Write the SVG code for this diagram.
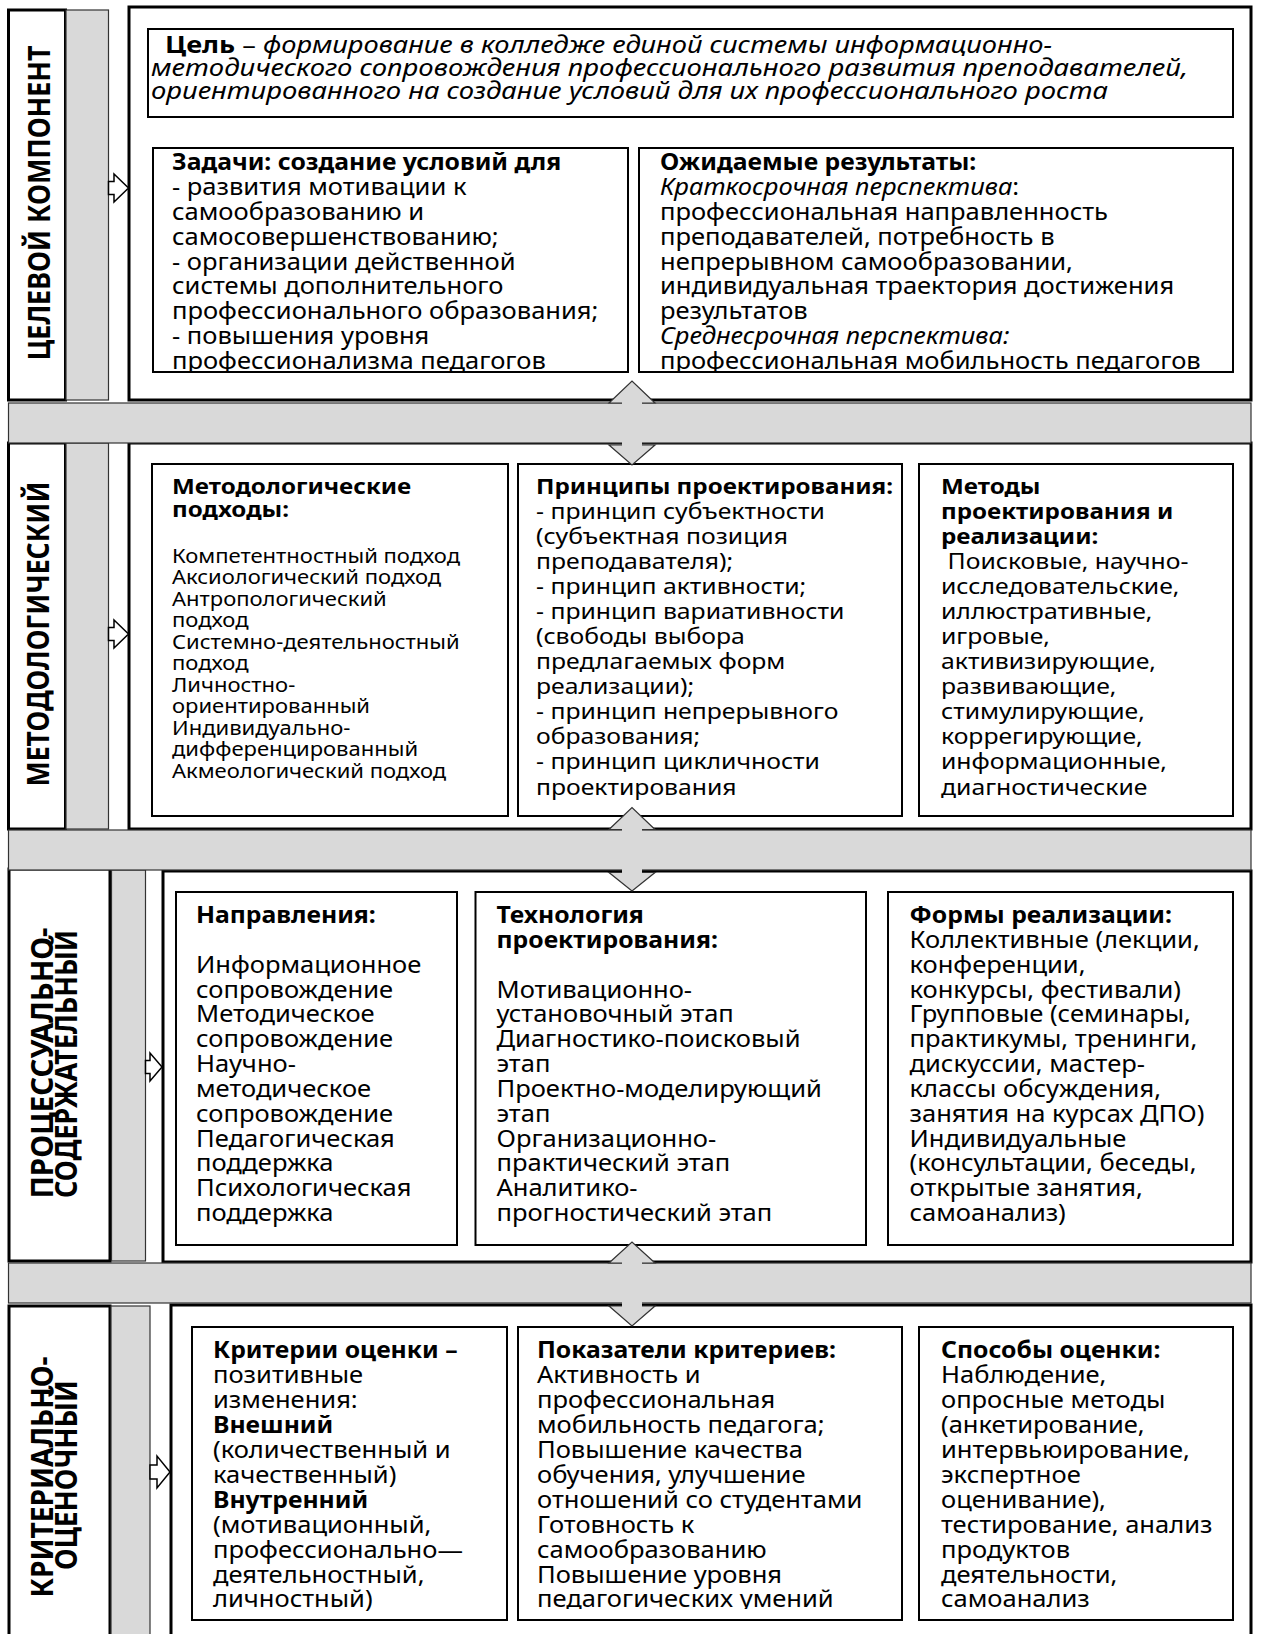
<svg xmlns="http://www.w3.org/2000/svg" width="1261" height="1634" viewBox="0 0 1261 1634">
<style>
  .t { font-family: 'Noto Sans', 'Open Sans', 'DejaVu Sans', sans-serif; font-size: 23.2px; fill: #000; }
  .m { font-size: 22.5px; }
  .sm { font-size: 20px; }
  .b { font-weight: bold; font-size: 22.5px; }
  .m .b { font-size: 22px; }
  .i { font-style: italic; }
  .goal { font-family: 'Noto Sans', 'Open Sans', 'DejaVu Sans', sans-serif; font-size: 23.6px; fill: #000; }
  .lbl { font-family: 'Noto Sans', 'Open Sans', 'DejaVu Sans', sans-serif; font-size: 30px; font-weight: bold; fill: #000; }
  .frame { fill: #fff; stroke: #000; stroke-width: 3; }
  .box { fill: #fff; stroke: #000; stroke-width: 2; }
  .bar { fill: #d9d9d9; stroke: #333; stroke-width: 1.2; }
  .fill { fill: #d9d9d9; stroke: none; }
  .edge { fill: none; stroke: #333; stroke-width: 1.2; }
  .side { fill: #fff; stroke: #000; stroke-width: 1.5; }
</style>
<defs>
  <clipPath id="clipTasks"><rect x="150" y="145" width="480" height="226"/></clipPath>
  <clipPath id="clipResults"><rect x="636" y="145" width="600" height="226"/></clipPath>
  <clipPath id="clipIndicators"><rect x="515" y="1324" width="390" height="285"/></clipPath>
</defs>
<rect width="1261" height="1634" fill="#fff"/>

<!-- ===== Section 1: target component ===== -->
<g id="target-label">
  <rect class="frame" x="8.5" y="10" width="57" height="390"/>
  <text class="lbl" transform="translate(39.5 203) rotate(-90)" y="10.7" text-anchor="middle" textLength="315" lengthAdjust="spacingAndGlyphs">ЦЕЛЕВОЙ КОМПОНЕНТ</text>
</g>
<g id="target-flow">
  <rect class="bar" x="66" y="10" width="42.5" height="390"/>
</g>
<g id="target-section">
  <rect class="frame" x="129" y="7" width="1122" height="393"/>
</g>
<g id="goal">
  <rect class="box" x="148" y="29" width="1085" height="88"/>
  <text class="goal" x="165" y="53" textLength="887" lengthAdjust="spacingAndGlyphs"><tspan font-weight="bold">Цель</tspan> – <tspan class="i">формирование в колледже единой системы информационно-</tspan></text>
  <text class="goal i" x="151" y="76" textLength="1037" lengthAdjust="spacingAndGlyphs">методического сопровождения профессионального развития преподавателей,</text>
  <text class="goal i" x="151" y="99" textLength="957" lengthAdjust="spacingAndGlyphs">ориентированного на создание условий для их профессионального роста</text>
</g>
<g id="tasks">
  <rect class="box" x="153" y="148" width="475" height="224"/>
  <g clip-path="url(#clipTasks)">
    <text class="t" transform="translate(172 0) scale(1.1 1)">
      <tspan class="b" x="0" y="170">Задачи: создание условий для</tspan>
      <tspan x="0" y="194.9">- развития мотивации к</tspan>
      <tspan x="0" y="219.8">самообразованию и</tspan>
      <tspan x="0" y="244.7">самосовершенствованию;</tspan>
      <tspan x="0" y="269.6">- организации действенной</tspan>
      <tspan x="0" y="294.5">системы дополнительного</tspan>
      <tspan x="0" y="319.4">профессионального образования;</tspan>
      <tspan x="0" y="344.3">- повышения уровня</tspan>
      <tspan x="0" y="369.5">профессионализма педагогов</tspan>
    </text>
  </g>
</g>
<g id="results">
  <rect class="box" x="639" y="148" width="594" height="224"/>
  <g clip-path="url(#clipResults)">
    <text class="t" transform="translate(660 0) scale(1.1 1)">
      <tspan class="b" x="0" y="170">Ожидаемые результаты:</tspan>
      <tspan x="0" y="194.9"><tspan class="i">Краткосрочная перспектива</tspan>:</tspan>
      <tspan x="0" y="219.8">профессиональная направленность</tspan>
      <tspan x="0" y="244.7">преподавателей, потребность в</tspan>
      <tspan x="0" y="269.6">непрерывном самообразовании,</tspan>
      <tspan x="0" y="294.5">индивидуальная траектория достижения</tspan>
      <tspan x="0" y="319.4">результатов</tspan>
      <tspan class="i" x="0" y="344.3">Среднесрочная перспектива:</tspan>
      <tspan x="0" y="369.5">профессиональная мобильность педагогов</tspan>
    </text>
  </g>
</g>

<!-- ===== Section 2: methodological component ===== -->
<g id="method-label">
  <rect class="frame" x="8.5" y="443" width="57" height="386"/>
  <text class="lbl" transform="translate(38.5 634) rotate(-90)" y="10.7" text-anchor="middle" textLength="305" lengthAdjust="spacingAndGlyphs">МЕТОДОЛОГИЧЕСКИЙ</text>
</g>
<g id="method-flow">
  <rect class="bar" x="66" y="443" width="42.5" height="386"/>
</g>
<g id="method-section">
  <rect class="frame" x="129" y="443" width="1122" height="386"/>
</g>
<g id="approaches">
  <rect class="box" x="152" y="464" width="356" height="352"/>
  <text class="t m" transform="translate(172 0) scale(1.1 1)">
    <tspan class="b" x="0" y="494">Методологические</tspan>
    <tspan class="b" x="0" y="517">подходы:</tspan>
    <tspan class="sm" x="0" y="563">Компетентностный подход</tspan>
    <tspan class="sm" x="0" y="584.5">Аксиологический подход</tspan>
    <tspan class="sm" x="0" y="606">Антропологический</tspan>
    <tspan class="sm" x="0" y="627.5">подход</tspan>
    <tspan class="sm" x="0" y="649">Системно-деятельностный</tspan>
    <tspan class="sm" x="0" y="670.5">подход</tspan>
    <tspan class="sm" x="0" y="692">Личностно-</tspan>
    <tspan class="sm" x="0" y="713.5">ориентированный</tspan>
    <tspan class="sm" x="0" y="735">Индивидуально-</tspan>
    <tspan class="sm" x="0" y="756.5">дифференцированный</tspan>
    <tspan class="sm" x="0" y="778">Акмеологический подход</tspan>
  </text>
</g>
<g id="principles">
  <rect class="box" x="518" y="464" width="384" height="352"/>
  <text class="t m" transform="translate(536 0) scale(1.1 1)">
    <tspan class="b" x="0" y="494">Принципы проектирования:</tspan>
    <tspan x="0" y="519">- принцип субъектности</tspan>
    <tspan x="0" y="544.1">(субъектная позиция</tspan>
    <tspan x="0" y="569.1">преподавателя);</tspan>
    <tspan x="0" y="594.2">- принцип активности;</tspan>
    <tspan x="0" y="619.2">- принцип вариативности</tspan>
    <tspan x="0" y="644.3">(свободы выбора</tspan>
    <tspan x="0" y="669.3">предлагаемых форм</tspan>
    <tspan x="0" y="694.4">реализации);</tspan>
    <tspan x="0" y="719.4">- принцип непрерывного</tspan>
    <tspan x="0" y="744.5">образования;</tspan>
    <tspan x="0" y="769.5">- принцип цикличности</tspan>
    <tspan x="0" y="794.6">проектирования</tspan>
  </text>
</g>
<g id="methods">
  <rect class="box" x="919" y="464" width="314" height="352"/>
  <text class="t m" transform="translate(941 0) scale(1.1 1)">
    <tspan class="b" x="0" y="494">Методы</tspan>
    <tspan class="b" x="0" y="519">проектирования и</tspan>
    <tspan class="b" x="0" y="544.1">реализации:</tspan>
    <tspan x="6" y="569.1">Поисковые, научно-</tspan>
    <tspan x="0" y="594.2">исследовательские,</tspan>
    <tspan x="0" y="619.2">иллюстративные,</tspan>
    <tspan x="0" y="644.3">игровые,</tspan>
    <tspan x="0" y="669.3">активизирующие,</tspan>
    <tspan x="0" y="694.4">развивающие,</tspan>
    <tspan x="0" y="719.4">стимулирующие,</tspan>
    <tspan x="0" y="744.5">коррегирующие,</tspan>
    <tspan x="0" y="769.5">информационные,</tspan>
    <tspan x="0" y="794.6">диагностические</tspan>
  </text>
</g>

<!-- ===== Section 3: process and content component ===== -->
<g id="process-label">
  <rect class="frame" x="9" y="869" width="101" height="392"/>
  <text class="lbl" transform="translate(42 1063) rotate(-90)" y="10.7" text-anchor="middle" textLength="271" lengthAdjust="spacingAndGlyphs">ПРОЦЕССУАЛЬНО-</text>
  <text class="lbl" transform="translate(66 1064) rotate(-90)" y="10.7" text-anchor="middle" textLength="268" lengthAdjust="spacingAndGlyphs">СОДЕРЖАТЕЛЬНЫЙ</text>
</g>
<g id="process-flow">
  <rect class="bar" x="111.5" y="870" width="34" height="391"/>
</g>
<g id="process-section">
  <rect class="frame" x="163" y="871" width="1088" height="391"/>
</g>
<g id="directions">
  <rect class="box" x="176" y="892" width="281" height="353"/>
  <text class="t" transform="translate(196 0) scale(1.1 1)">
    <tspan class="b" x="0" y="923">Направления:</tspan>
    <tspan x="0" y="972.7">Информационное</tspan>
    <tspan x="0" y="997.55">сопровождение</tspan>
    <tspan x="0" y="1022.4">Методическое</tspan>
    <tspan x="0" y="1047.25">сопровождение</tspan>
    <tspan x="0" y="1072.1">Научно-</tspan>
    <tspan x="0" y="1096.95">методическое</tspan>
    <tspan x="0" y="1121.8">сопровождение</tspan>
    <tspan x="0" y="1146.65">Педагогическая</tspan>
    <tspan x="0" y="1171.5">поддержка</tspan>
    <tspan x="0" y="1196.35">Психологическая</tspan>
    <tspan x="0" y="1221.2">поддержка</tspan>
  </text>
</g>
<g id="technology">
  <rect class="box" x="475.5" y="892" width="390.5" height="353"/>
  <text class="t" transform="translate(496.5 0) scale(1.1 1)">
    <tspan class="b" x="0" y="923">Технология</tspan>
    <tspan class="b" x="0" y="947.85">проектирования:</tspan>
    <tspan x="0" y="997.55">Мотивационно-</tspan>
    <tspan x="0" y="1022.4">установочный этап</tspan>
    <tspan x="0" y="1047.25">Диагностико-поисковый</tspan>
    <tspan x="0" y="1072.1">этап</tspan>
    <tspan x="0" y="1096.95">Проектно-моделирующий</tspan>
    <tspan x="0" y="1121.8">этап</tspan>
    <tspan x="0" y="1146.65">Организационно-</tspan>
    <tspan x="0" y="1171.5">практический этап</tspan>
    <tspan x="0" y="1196.35">Аналитико-</tspan>
    <tspan x="0" y="1221.2">прогностический этап</tspan>
  </text>
</g>
<g id="forms">
  <rect class="box" x="888" y="892" width="345" height="353"/>
  <text class="t" transform="translate(909.5 0) scale(1.1 1)">
    <tspan class="b" x="0" y="923">Формы реализации:</tspan>
    <tspan x="0" y="947.85">Коллективные (лекции,</tspan>
    <tspan x="0" y="972.7">конференции,</tspan>
    <tspan x="0" y="997.55">конкурсы, фестивали)</tspan>
    <tspan x="0" y="1022.4">Групповые (семинары,</tspan>
    <tspan x="0" y="1047.25">практикумы, тренинги,</tspan>
    <tspan x="0" y="1072.1">дискуссии, мастер-</tspan>
    <tspan x="0" y="1096.95">классы обсуждения,</tspan>
    <tspan x="0" y="1121.8">занятия на курсах ДПО)</tspan>
    <tspan x="0" y="1146.65">Индивидуальные</tspan>
    <tspan x="0" y="1171.5">(консультации, беседы,</tspan>
    <tspan x="0" y="1196.35">открытые занятия,</tspan>
    <tspan x="0" y="1221.2">самоанализ)</tspan>
  </text>
</g>

<!-- ===== Section 4: criteria and evaluation component ===== -->
<g id="criteria-label">
  <rect class="frame" x="9" y="1306" width="101" height="340"/>
  <text class="lbl" transform="translate(42 1477) rotate(-90)" y="10.7" text-anchor="middle" textLength="241" lengthAdjust="spacingAndGlyphs">КРИТЕРИАЛЬНО-</text>
  <text class="lbl" transform="translate(66 1475) rotate(-90)" y="10.7" text-anchor="middle" textLength="190" lengthAdjust="spacingAndGlyphs">ОЦЕНОЧНЫЙ</text>
</g>
<g id="criteria-flow">
  <rect class="bar" x="111" y="1306" width="39" height="340"/>
</g>
<g id="criteria-section">
  <rect class="frame" x="171" y="1305" width="1080" height="341"/>
</g>
<g id="criteria">
  <rect class="box" x="192" y="1327" width="315" height="293"/>
  <text class="t" transform="translate(213 0) scale(1.1 1)">
    <tspan class="b" x="0" y="1358.5">Критерии оценки –</tspan>
    <tspan x="0" y="1383.4">позитивные</tspan>
    <tspan x="0" y="1408.3">изменения:</tspan>
    <tspan class="b" x="0" y="1433.2">Внешний</tspan>
    <tspan x="0" y="1458.1">(количественный и</tspan>
    <tspan x="0" y="1483">качественный)</tspan>
    <tspan class="b" x="0" y="1507.9">Внутренний</tspan>
    <tspan x="0" y="1532.8">(мотивационный,</tspan>
    <tspan x="0" y="1557.7">профессионально—</tspan>
    <tspan x="0" y="1582.6">деятельностный,</tspan>
    <tspan x="0" y="1607.5">личностный)</tspan>
  </text>
</g>
<g id="indicators">
  <rect class="box" x="518" y="1327" width="384" height="293"/>
  <g clip-path="url(#clipIndicators)">
    <text class="t" transform="translate(537 0) scale(1.1 1)">
      <tspan class="b" x="0" y="1358.5">Показатели критериев:</tspan>
      <tspan x="0" y="1383.4">Активность и</tspan>
      <tspan x="0" y="1408.3">профессиональная</tspan>
      <tspan x="0" y="1433.2">мобильность педагога;</tspan>
      <tspan x="0" y="1458.1">Повышение качества</tspan>
      <tspan x="0" y="1483">обучения, улучшение</tspan>
      <tspan x="0" y="1507.9">отношений со студентами</tspan>
      <tspan x="0" y="1532.8">Готовность к</tspan>
      <tspan x="0" y="1557.7">самообразованию</tspan>
      <tspan x="0" y="1582.6">Повышение уровня</tspan>
      <tspan x="0" y="1607.5">педагогических умений</tspan>
    </text>
  </g>
</g>
<g id="evaluation">
  <rect class="box" x="919" y="1327" width="314" height="293"/>
  <text class="t" transform="translate(941 0) scale(1.1 1)">
    <tspan class="b" x="0" y="1358.5">Способы оценки:</tspan>
    <tspan x="0" y="1383.4">Наблюдение,</tspan>
    <tspan x="0" y="1408.3">опросные методы</tspan>
    <tspan x="0" y="1433.2">(анкетирование,</tspan>
    <tspan x="0" y="1458.1">интервьюирование,</tspan>
    <tspan x="0" y="1483">экспертное</tspan>
    <tspan x="0" y="1507.9">оценивание),</tspan>
    <tspan x="0" y="1532.8">тестирование, анализ</tspan>
    <tspan x="0" y="1557.7">продуктов</tspan>
    <tspan x="0" y="1582.6">деятельности,</tspan>
    <tspan x="0" y="1607.5">самоанализ</tspan>
  </text>
</g>

<!-- ===== Connectors: bands, side arrows, two-way arrows ===== -->
<g id="connectors">
  <rect class="bar" x="8.5" y="403" width="1242.5" height="40"/>
  <rect class="bar" x="8.5" y="830" width="1242.5" height="40"/>
  <rect class="bar" x="8.5" y="1263" width="1242.5" height="40"/>

  <polygon class="side" points="108.5,181.5 114,181.5 114,174 128.5,188 114,202 114,194.5 108.5,194.5"/>
  <polygon class="side" points="108.5,627.5 114,627.5 114,620 128.5,634 114,648 114,640.5 108.5,640.5"/>
  <polygon class="side" points="145.5,1060.5 150,1060.5 150,1053 162,1067 150,1081 150,1073.5 145.5,1073.5"/>
  <polygon class="side" points="150,1465 157,1465 157,1456 170,1472 157,1488 157,1479 150,1479"/>

  <polygon class="fill" points="632,381 655,403 642,403 642,445 655,445 632,465 609,445 622,445 622,403 609,403"/>
  <polyline class="edge" points="622,403 609,403 632,381 655,403 642,403"/>
  <polyline class="edge" points="622,445 609,445 632,465 655,445 642,445"/>

  <polygon class="fill" points="632,807.5 655,829.5 642,829.5 642,872.5 655,872.5 632,891 609,872.5 622,872.5 622,829.5 609,829.5"/>
  <polyline class="edge" points="622,829.5 609,829.5 632,807.5 655,829.5 642,829.5"/>
  <polyline class="edge" points="622,872.5 609,872.5 632,891 655,872.5 642,872.5"/>

  <polygon class="fill" points="632,1242 655,1263 642,1263 642,1306 655,1306 632,1326 609,1306 622,1306 622,1263 609,1263"/>
  <polyline class="edge" points="622,1263 609,1263 632,1242 655,1263 642,1263"/>
  <polyline class="edge" points="622,1306 609,1306 632,1326 655,1306 642,1306"/>
</g>
</svg>
